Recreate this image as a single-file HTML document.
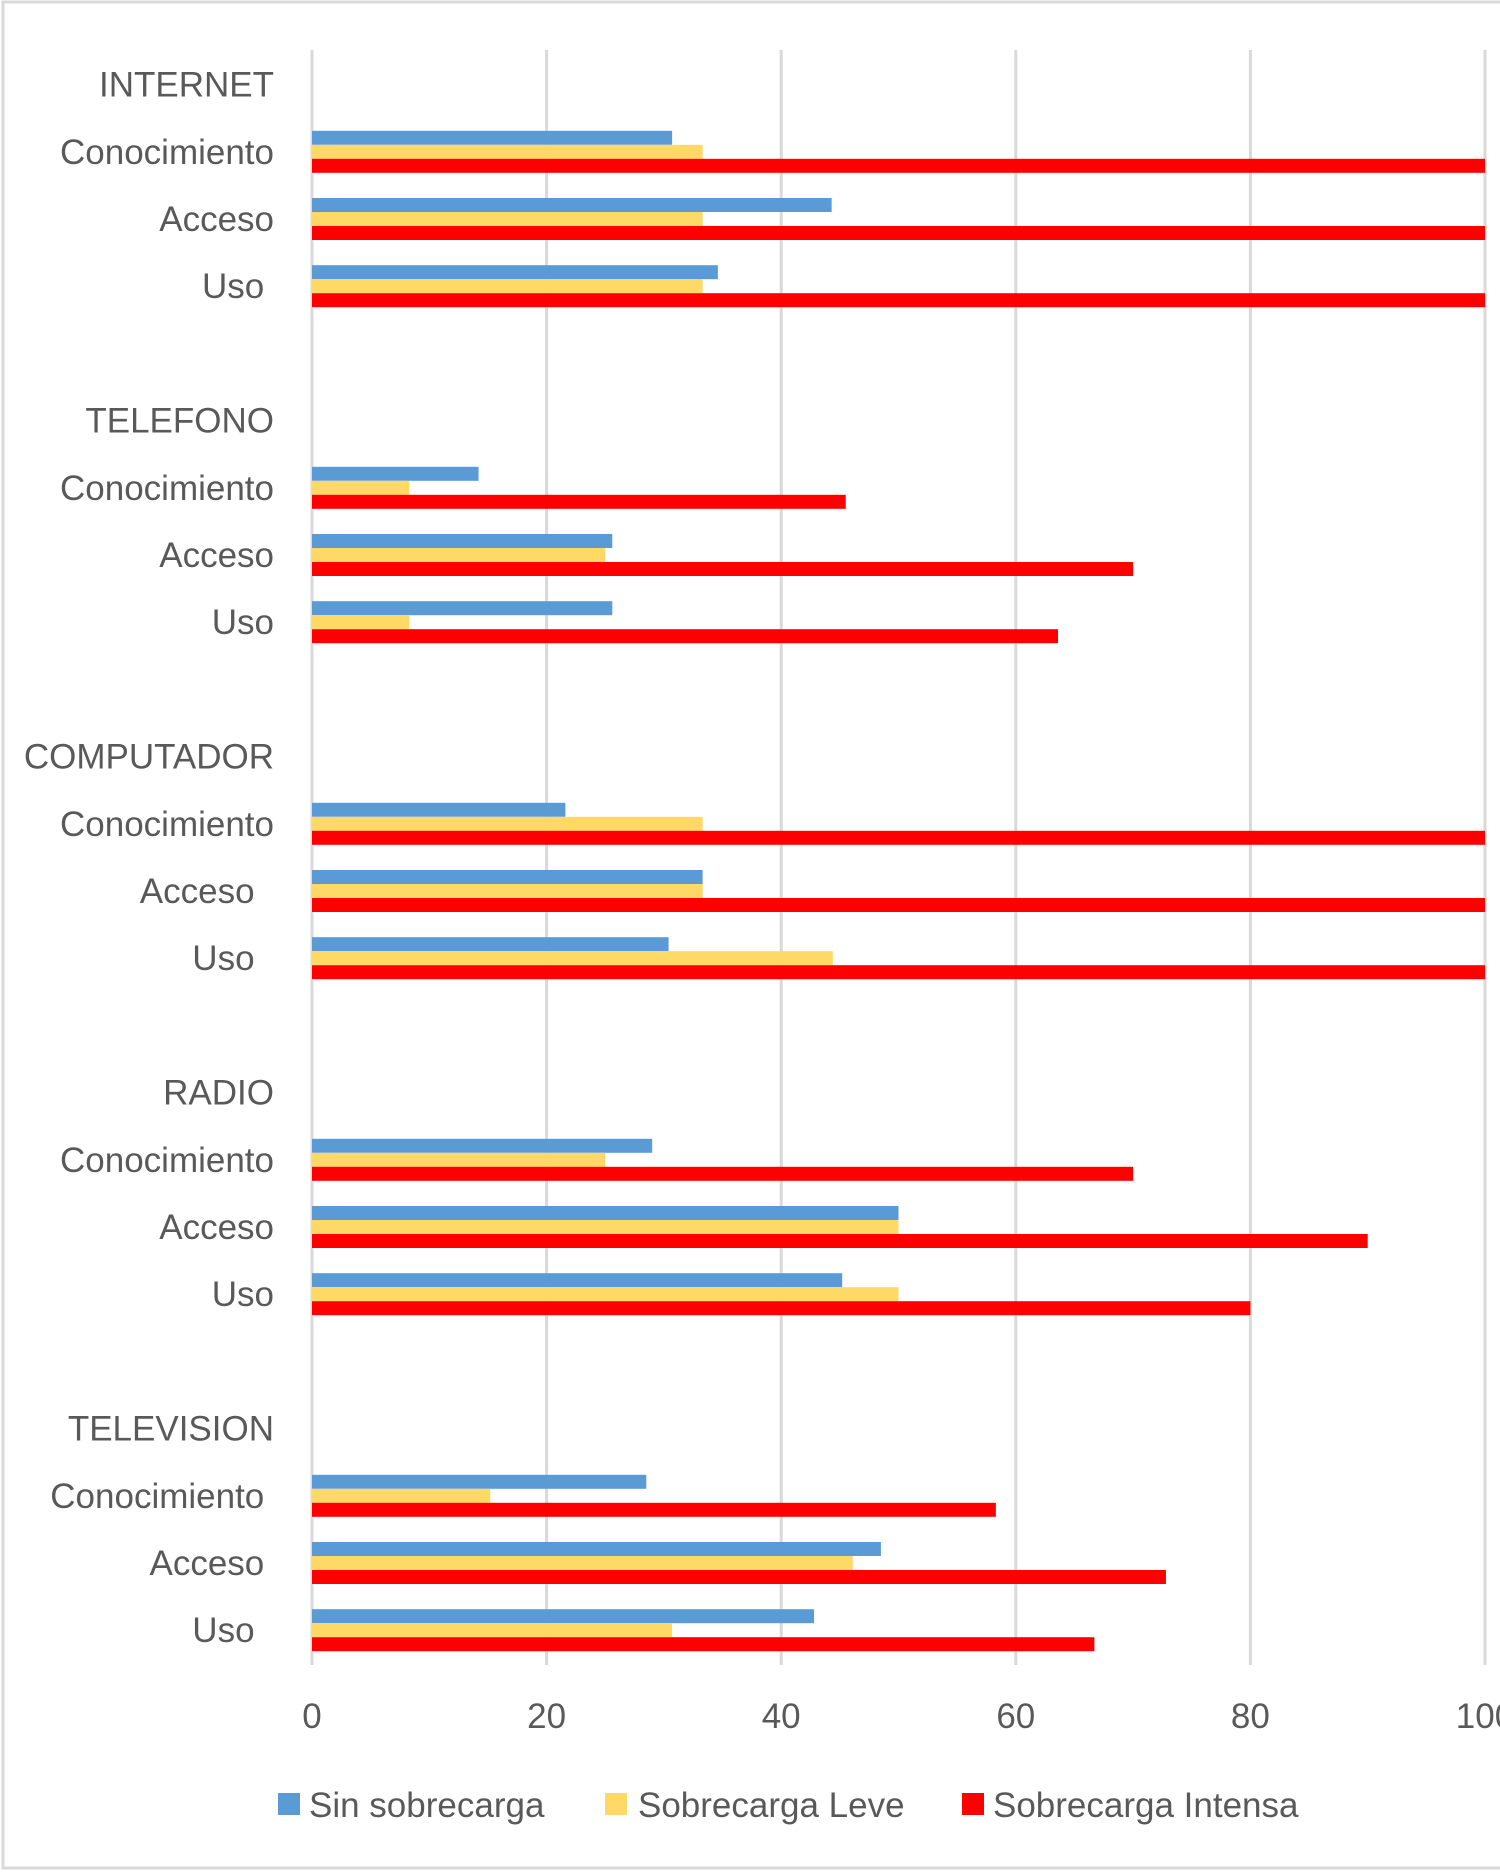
<!DOCTYPE html>
<html><head><meta charset="utf-8"><style>
html,body{margin:0;padding:0;background:#fff;}
svg{display:block;}
text{font-family:"Liberation Sans",sans-serif;fill:#595959;white-space:pre;}
</style></head><body>
<svg id="chart" width="1500" height="1872" viewBox="0 0 1500 1872" xmlns="http://www.w3.org/2000/svg" xml:space="preserve">
<rect x="3" y="2" width="1510" height="1866" fill="#fff" stroke="#d9d9d9" stroke-width="3"/>
<g id="grid"></g><g id="bars"></g><g id="labels"></g><g id="ticks"></g>
<g>
<rect x="278" y="1793" width="22" height="22" fill="#5b9bd5"/>
<text x="309" y="1817" font-size="35">Sin sobrecarga</text>
<rect x="605" y="1793" width="22" height="22" fill="#ffd966"/>
<text x="638" y="1817" font-size="35">Sobrecarga Leve</text>
<rect x="962" y="1793" width="22" height="22" fill="#ff0000"/>
<text x="993" y="1817" font-size="35">Sobrecarga Intensa</text>
</g>
</svg>
<script>
const rowLabels = ["INTERNET","Conocimiento","Acceso","Uso ","","TELEFONO","Conocimiento","Acceso","Uso","","COMPUTADOR","Conocimiento","Acceso  ","Uso  ","","RADIO","Conocimiento","Acceso","Uso","","TELEVISION","Conocimiento ","Acceso ","Uso  "];
const sinSobrecarga = [null,30.7,44.3,34.6,null,null,14.2,25.6,25.6,null,null,21.6,33.3,30.4,null,null,29,50,45.2,null,null,28.5,48.5,42.8];
const sobrecargaLeve = [null,33.3,33.3,33.3,null,null,8.3,25,8.3,null,null,33.3,33.3,44.4,null,null,25,50,50,null,null,15.2,46.1,30.7];
const sobrecargaIntensa = [null,100,100,100,null,null,45.5,70,63.6,null,null,100,100,100,null,null,70,90,80,null,null,58.3,72.8,66.7];
const tickValues = [0,20,40,60,80,100];

const NS="http://www.w3.org/2000/svg";
const x0=312, x100=1485, plotTop=51, rowH=67.2, plotBottom=1665, barH=14;
const xs=v=>x0+(x100-x0)*v/100;
const yc=i=>plotTop+rowH*(i+0.5);
function mk(tag,attrs,parent){const e=document.createElementNS(NS,tag);for(const k in attrs)e.setAttribute(k,attrs[k]);document.getElementById(parent).appendChild(e);return e;}

tickValues.forEach(t=>{
  const l=mk('line',{x1:xs(t),x2:xs(t),y1:50,y2:plotBottom,stroke:'#d9d9d9','stroke-width':3},'grid');
  
  
  const tx=mk('text',{x:xs(t),y:1728,'font-size':35,'text-anchor':'middle'},'ticks');
  tx.textContent=String(t);
  
  
});

const series=[[sinSobrecarga,'#5b9bd5','sin'],[sobrecargaLeve,'#ffd966','leve'],[sobrecargaIntensa,'#ff0000','intensa']];
rowLabels.forEach((lab,i)=>{
  if(lab.trim()){
    const t=mk('text',{x:274,y:yc(i)+12,'font-size':35,'text-anchor':'end'},'labels');
    t.textContent=lab;
    
    
  }
  series.forEach((s,k)=>{
    const v=s[0][i];
    if(v==null)return;
    const r=mk('rect',{x:x0,y:yc(i)-1.5*barH+k*barH,width:xs(v)-x0,height:barH,fill:s[1]},'bars');
    
    
  });
});
</script>
</body></html>
